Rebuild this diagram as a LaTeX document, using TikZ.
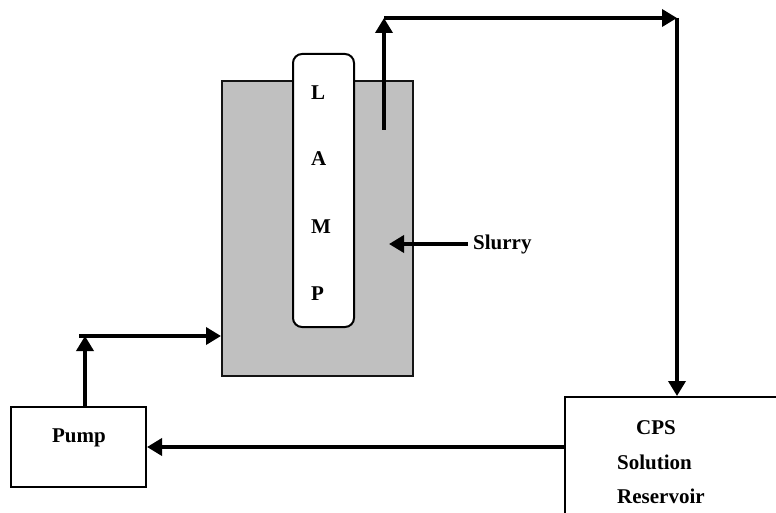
\documentclass[tikz,border=0pt]{standalone}
\usepackage{fontspec}
\setmainfont{Liberation Serif}
\usepackage{tikz}
\usetikzlibrary{arrows.meta,positioning,calc}
\definecolor{slurrygray}{RGB}{192,192,192}
\definecolor{linegray}{RGB}{20,20,20}

\begin{document}
\begin{tikzpicture}[
    x=1pt, y=-1pt,
    vessel/.style={rectangle, draw=linegray, line width=2pt, fill=slurrygray, minimum width=191pt, minimum height=295pt},
    lamp/.style={rectangle, draw=black, line width=2pt, rounded corners=9pt, fill=white, minimum width=61pt, minimum height=273pt},
    unit/.style={rectangle, draw=black, line width=2pt, fill=white},
    txt/.style={font=\fontsize{21}{25}\selectfont\bfseries, inner sep=0pt},
    flow/.style={-{Triangle[length=15pt,width=17pt]}, line width=3.6pt}
]
\useasboundingbox (0,0) rectangle (776,513);
\clip (0,0) rectangle (776,513);

% Photoreactor with lamp
\node[vessel] (reactor) at (317.5,228.5) {};
\node[lamp] (lampbox) at (323.5,190.5) {};
\foreach \ch/\yy [count=\i] in {L/93, A/159, M/227, P/294}
    \node[txt, anchor=west] (lamp\i) at (311,\yy) {\ch};

% Units
\node[unit, minimum width=135pt, minimum height=80pt] (pump) at (78.5,447) {};
\node[txt] (pumptxt) at (79,438) {Pump};
\node[unit, minimum width=232pt, minimum height=150pt] (cps) at (681,472) {};
\node[txt, anchor=west] (cps1) at (636,428) {CPS};
\node[txt, anchor=west] (cps2) at (617,462) {Solution};
\node[txt, anchor=west] (cps3) at (617,496) {Reservoir};
\node[txt, anchor=west, inner xsep=5pt] (slurry) at (468,244) {Slurry};

% Turning points
\coordinate (outlet) at (384,130);
\coordinate (turnA) at (384,18);
\coordinate (turnB) at (677,18);
\coordinate (pumpup) at (85,336);
\coordinate (feed) at (79,336);
\coordinate (slurryin) at (389,244);

% Arrows
\draw[flow] (outlet) -- (turnA);
\draw[flow] (turnA) -- (turnB);
\draw[flow] (turnB) -- (turnB |- cps.north);
\draw[flow] (pump.east -| cps.west) -- (pump.east);
\draw[flow] (pumpup |- pump.north) -- (pumpup);
\draw[flow] (feed) -- (feed -| reactor.west);
\draw[flow] (slurry.west) -- (slurryin);

\end{tikzpicture}
\end{document}
